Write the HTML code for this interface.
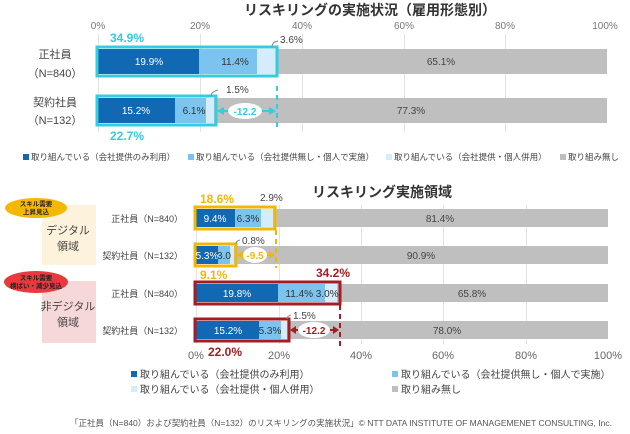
<!DOCTYPE html>
<html><head><meta charset="utf-8"><style>
body{margin:0;background:#fff;}
svg{display:block;font-family:"Liberation Sans","Noto Sans CJK JP",sans-serif;}
</style></head><body>
<svg width="630" height="434" viewBox="0 0 630 434" xmlns="http://www.w3.org/2000/svg">
<!-- TOP CHART -->
<text x="370" y="15" font-size="14" font-weight="bold" text-anchor="middle" fill="#333">リスキリングの実施状況（雇用形態別）</text>
<g font-size="10" fill="#777" text-anchor="middle">
<text x="98" y="29">0%</text><text x="200" y="29">20%</text><text x="302" y="29">40%</text><text x="404" y="29">60%</text><text x="505" y="29">80%</text><text x="605" y="29">100%</text>
</g>
<g stroke="#e3e3e3" stroke-width="1">
<line x1="98.5" y1="34" x2="98.5" y2="132"/><line x1="200.5" y1="34" x2="200.5" y2="132"/><line x1="302.5" y1="34" x2="302.5" y2="132"/><line x1="404.5" y1="34" x2="404.5" y2="132"/><line x1="505.5" y1="34" x2="505.5" y2="132"/>
</g>
<rect x="98" y="49" width="101" height="25" fill="#1168b3"/>
<rect x="199" y="49" width="58" height="25" fill="#7cc4f0"/>
<rect x="257" y="49" width="19" height="25" fill="#d5ecfa"/>
<rect x="276" y="49" width="331" height="25" fill="#bfbfbf"/>
<rect x="98" y="98" width="77" height="25" fill="#1168b3"/>
<rect x="175" y="98" width="31" height="25" fill="#7cc4f0"/>
<rect x="206" y="98" width="8" height="25" fill="#d5ecfa"/>
<rect x="214" y="98" width="393" height="25" fill="#bfbfbf"/>
<rect x="97" y="47" width="180" height="29" fill="none" stroke="#33cce0" stroke-width="3"/>
<rect x="97" y="96" width="119" height="29" fill="none" stroke="#33cce0" stroke-width="3"/>
<line x1="277" y1="86" x2="277" y2="130" stroke="#33cce0" stroke-width="2" stroke-dasharray="5,4"/>
<line x1="222" y1="111" x2="271" y2="111" stroke="#33cce0" stroke-width="2"/>
<polygon points="217,111 224,107 224,115" fill="#33cce0"/><polygon points="276,111 269,107 269,115" fill="#33cce0"/>
<ellipse cx="245" cy="111" rx="17" ry="8" fill="#fff"/>
<text x="245" y="115" font-size="10" font-weight="bold" fill="#33cce0" text-anchor="middle">-12.2</text>
<g font-size="10" fill="#fff" text-anchor="middle">
<text x="149" y="65">19.9%</text><text x="235" y="65" fill="#333">11.4%</text><text x="136" y="114">15.2%</text><text x="194" y="114" fill="#333">6.1%</text>
</g>
<text x="441" y="65" font-size="10" fill="#444" text-anchor="middle">65.1%</text>
<text x="411" y="114" font-size="10" fill="#444" text-anchor="middle">77.3%</text>
<path d="M272 47 Q272 42 278 41" fill="none" stroke="#888"/><text x="280" y="43" font-size="10" fill="#444">3.6%</text>
<path d="M211 96 Q211 92 218 90" fill="none" stroke="#888"/><text x="226" y="93" font-size="10" fill="#444">1.5%</text>
<text x="110" y="42" font-size="12" font-weight="bold" fill="#33cce0">34.9%</text>
<text x="110" y="140" font-size="12" font-weight="bold" fill="#33cce0">22.7%</text>
<g font-size="11" fill="#444" text-anchor="middle">
<text x="55" y="58">正社員</text><text x="55" y="77">（N=840）</text>
<text x="55" y="106">契約社員</text><text x="55" y="124">（N=132）</text>
</g>
<g font-size="8.5" fill="#444">
<rect x="23" y="154" width="6" height="6" fill="#1168b3"/><text x="31" y="160">取り組んでいる（会社提供のみ利用）</text>
<rect x="188" y="154" width="6" height="6" fill="#7cc4f0"/><text x="196" y="160">取り組んでいる（会社提供無し・個人で実施）</text>
<rect x="386" y="154" width="6" height="6" fill="#d5ecfa"/><text x="394" y="160">取り組んでいる（会社提供・個人併用）</text>
<rect x="560" y="154" width="6" height="6" fill="#bfbfbf"/><text x="568" y="160">取り組み無し</text>
</g>
<!-- BOTTOM CHART -->
<text x="382" y="197" font-size="14" font-weight="bold" text-anchor="middle" fill="#333">リスキリング実施領域</text>
<rect x="42" y="205" width="54" height="60" fill="#fdf3dc"/>
<rect x="42" y="281" width="54" height="62" fill="#f6d8d8"/>
<ellipse cx="36" cy="208" rx="31" ry="10" fill="#f5b800"/>
<text x="36" y="206" font-size="6.5" font-weight="bold" text-anchor="middle" fill="#222">スキル需要</text>
<text x="36" y="214" font-size="6.5" font-weight="bold" text-anchor="middle" fill="#222">上昇見込</text>
<ellipse cx="36" cy="282" rx="32" ry="11" fill="#e83a3e"/>
<text x="36" y="280" font-size="6.5" font-weight="bold" text-anchor="middle" fill="#222">スキル需要</text>
<text x="36" y="288" font-size="6.5" font-weight="bold" text-anchor="middle" fill="#222">横ばい・減少見込</text>
<g font-size="11" fill="#444" text-anchor="middle">
<text x="68" y="234">デジタル</text><text x="68" y="250">領域</text>
<text x="68" y="310">非デジタル</text><text x="68" y="326">領域</text>
</g>
<g font-size="9" fill="#444" text-anchor="end">
<text x="183" y="222">正社員（N=840）</text><text x="183" y="259">契約社員（N=132）</text>
<text x="183" y="297">正社員（N=840）</text><text x="183" y="334">契約社員（N=132）</text>
</g>
<g stroke="#e3e3e3" stroke-width="1">
<line x1="196.5" y1="205" x2="196.5" y2="344"/><line x1="279.5" y1="205" x2="279.5" y2="344"/><line x1="361.5" y1="205" x2="361.5" y2="344"/><line x1="443.5" y1="205" x2="443.5" y2="344"/><line x1="526.5" y1="205" x2="526.5" y2="344"/>
</g>
<rect x="196" y="209" width="39" height="18" fill="#1168b3"/><rect x="235" y="209" width="26" height="18" fill="#7cc4f0"/><rect x="261" y="209" width="12" height="18" fill="#d5ecfa"/><rect x="273" y="209" width="335" height="18" fill="#bfbfbf"/>
<rect x="196" y="246" width="22" height="18" fill="#1168b3"/><rect x="218" y="246" width="12" height="18" fill="#7cc4f0"/><rect x="230" y="246" width="4" height="18" fill="#d5ecfa"/><rect x="234" y="246" width="374" height="18" fill="#bfbfbf"/>
<rect x="196" y="284" width="82" height="18" fill="#1168b3"/><rect x="278" y="284" width="47" height="18" fill="#7cc4f0"/><rect x="325" y="284" width="12" height="18" fill="#d5ecfa"/><rect x="337" y="284" width="271" height="18" fill="#bfbfbf"/>
<rect x="196" y="321" width="63" height="18" fill="#1168b3"/><rect x="259" y="321" width="22" height="18" fill="#7cc4f0"/><rect x="281" y="321" width="6" height="18" fill="#d5ecfa"/><rect x="287" y="321" width="321" height="18" fill="#bfbfbf"/>
<rect x="195" y="207" width="80" height="22" fill="none" stroke="#f2b705" stroke-width="3"/>
<rect x="195" y="244" width="41" height="22" fill="none" stroke="#f2b705" stroke-width="3"/>
<rect x="195" y="282" width="145" height="22" fill="none" stroke="#a31d22" stroke-width="3"/>
<rect x="195" y="319" width="94" height="22" fill="none" stroke="#a31d22" stroke-width="3"/>
<line x1="276" y1="230" x2="276" y2="268" stroke="#f2b705" stroke-width="2" stroke-dasharray="5,4"/>
<line x1="340" y1="305" x2="340" y2="346" stroke="#a31d22" stroke-width="2" stroke-dasharray="5,4"/>
<line x1="241" y1="255" x2="270" y2="255" stroke="#f2b705" stroke-width="2"/>
<polygon points="237,255 243,251 243,259" fill="#f2b705"/><polygon points="275,255 269,251 269,259" fill="#f2b705"/>
<ellipse cx="255" cy="255" rx="12" ry="8" fill="#fff"/>
<text x="255" y="259" font-size="10" font-weight="bold" fill="#f2b705" text-anchor="middle">-9.5</text>
<line x1="294" y1="330" x2="334" y2="330" stroke="#a31d22" stroke-width="2"/>
<polygon points="290,330 296,326 296,334" fill="#a31d22"/><polygon points="339,330 333,326 333,334" fill="#a31d22"/>
<ellipse cx="314" cy="330" rx="16" ry="8" fill="#fff"/>
<text x="314" y="334" font-size="10" font-weight="bold" fill="#a31d22" text-anchor="middle">-12.2</text>
<g font-size="10" fill="#fff" text-anchor="middle">
<text x="215" y="222">9.4%</text><text x="248" y="222" fill="#333">6.3%</text>
<text x="207" y="259">5.3%</text><text x="224" y="259" fill="#333">3.0</text>
<text x="237" y="297">19.8%</text><text x="312" y="297" fill="#333">11.4% 3.0%</text>
<text x="228" y="334">15.2%</text><text x="270" y="334" fill="#333">5.3%</text>
</g>
<g font-size="10" fill="#444" text-anchor="middle">
<text x="440" y="222">81.4%</text><text x="421" y="259">90.9%</text><text x="472" y="297">65.8%</text><text x="447" y="334">78.0%</text>
</g>
<text x="260" y="201" font-size="10" fill="#444">2.9%</text>
<path d="M236 244 Q236 241 240 240" fill="none" stroke="#888"/><text x="242" y="244" font-size="10" fill="#444">0.8%</text>
<path d="M287 319 Q287 316 291 315" fill="none" stroke="#888"/><text x="293" y="319" font-size="10" fill="#444">1.5%</text>
<text x="200" y="203" font-size="12" font-weight="bold" fill="#f2b705">18.6%</text>
<text x="200" y="279" font-size="12" font-weight="bold" fill="#f2b705">9.1%</text>
<text x="316" y="277" font-size="12" font-weight="bold" fill="#a31d22">34.2%</text>
<text x="208" y="356" font-size="12" font-weight="bold" fill="#a31d22">22.0%</text>
<g font-size="11" fill="#666" text-anchor="middle">
<text x="196" y="359">0%</text><text x="279" y="359">20%</text><text x="361" y="359">40%</text><text x="443" y="359">60%</text><text x="526" y="359">80%</text><text x="608" y="359">100%</text>
</g>
<g font-size="10" fill="#444">
<rect x="131" y="371" width="6" height="6" fill="#1168b3"/><text x="140" y="378">取り組んでいる（会社提供のみ利用）</text>
<rect x="392" y="371" width="6" height="6" fill="#7cc4f0"/><text x="401" y="378">取り組んでいる（会社提供無し・個人で実施）</text>
<rect x="131" y="386" width="6" height="6" fill="#d5ecfa"/><text x="140" y="393">取り組んでいる（会社提供・個人併用）</text>
<rect x="392" y="386" width="6" height="6" fill="#bfbfbf"/><text x="401" y="393">取り組み無し</text>
</g>
<text x="612" y="426" font-size="8.5" fill="#555" text-anchor="end">「正社員（N=840）および契約社員（N=132）のリスキリングの実施状況」© NTT DATA INSTITUTE OF MANAGEMENET CONSULTING, Inc.</text>
</svg>
</body></html>
